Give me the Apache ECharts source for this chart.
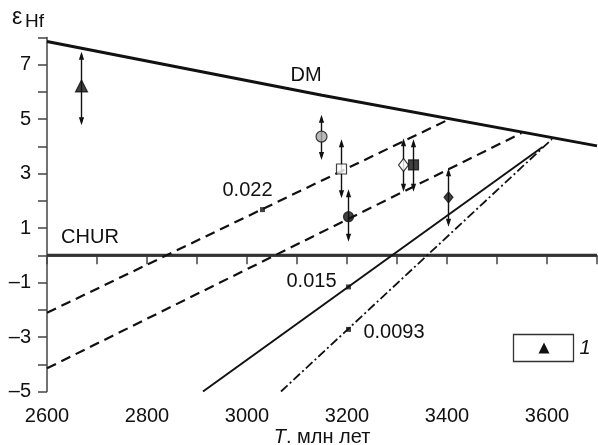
<!DOCTYPE html>
<html>
<head>
<meta charset="utf-8">
<script src="https://cdn.jsdelivr.net/npm/echarts@6/dist/echarts.min.js"></script>
<style>
  html, body { margin: 0; padding: 0; background: #fff; }
  #chart { width: 598px; height: 445px; }
</style>
</head>
<body>
<div id="chart"></div>
<script>
'use strict';

// reference lines
const dmLine = [[2600, 7.85], [3150, 5.88], [3700, 4.02]];
const churLine = [[2600, 0], [3700, 0]];
const line022 = [[2600, -2.11], [3408, 5.03]];
const lineLow = [[2600, -4.15], [3549, 4.49]];
const line015 = [[2912, -5], [3591, 3.98]];
const line0093 = [[3068, -5], [3610, 4.27]];
// small square marks on the evolution lines
const tickMarks = [[3031, 1.68], [3203, -1.16], [3203, -2.72]];

// samples: age, eps Hf, lower and upper limit
const sampleT = [2669, 3149, 3189, 3203, 3313, 3333, 3403];
const sampleEps = [6.22, 4.36, 3.17, 1.42, 3.32, 3.32, 2.13];
const sampleLo = [4.78, 3.50, 2.10, 0.50, 2.34, 2.34, 1.05];
const sampleHi = [7.48, 5.16, 4.26, 2.43, 4.30, 4.26, 3.20];

const xTicks = [2600, 2800, 3000, 3200, 3400, 3600];
const yTicks = [-5, -3, -1, 1, 3, 5, 7];

const FONT = "'Liberation Sans', Arial, sans-serif";
const INK = '#111';
const TXT = '#111';

// one marker style per sample
const markerStyles = [
  { symbol: 'triangle', size: [12, 12], fill: INK },
  { symbol: 'circle', size: 11, fill: '#a8a8a8' },
  { symbol: 'rect', size: 10, fill: '#fff' },
  { symbol: 'circle', size: 10, fill: INK },
  { symbol: 'diamond', size: [10, 13], fill: '#fff' },
  { symbol: 'rect', size: 10, fill: INK },
  { symbol: 'diamond', size: [9, 11], fill: INK }
];

function lineSeries(data, width, type, color) {
  return {
    type: 'line',
    data: data,
    showSymbol: false,
    silent: true,
    lineStyle: { color: color || INK, width: width, type: type || 'solid' },
    z: 2
  };
}

function renderErr(params, api) {
  const x = api.value(0);
  const top = api.coord([x, api.value(2)]);
  const bot = api.coord([x, api.value(1)]);
  const w = 2.6, h = 8;
  return {
    type: 'group',
    children: [
      { type: 'line', shape: { x1: top[0], y1: top[1] + 3, x2: bot[0], y2: bot[1] - 3 },
        style: { stroke: INK, lineWidth: 1.4 } },
      { type: 'polygon', shape: { points: [[top[0], top[1]], [top[0] - w, top[1] + h], [top[0] + w, top[1] + h]] },
        style: { fill: INK } },
      { type: 'polygon', shape: { points: [[bot[0], bot[1]], [bot[0] - w, bot[1] - h], [bot[0] + w, bot[1] - h]] },
        style: { fill: INK } }
    ]
  };
}

const errData = sampleT.map((t, i) => [t, sampleLo[i], sampleHi[i]]);
const pointData = sampleT.map((t, i) => ({
  value: [t, sampleEps[i]],
  symbol: markerStyles[i].symbol,
  symbolSize: markerStyles[i].size,
  itemStyle: { color: markerStyles[i].fill, borderColor: INK, borderWidth: 1.2 }
}));

function txt(x, y, s, opt) {
  return {
    type: 'text', x: x, y: y, silent: true,
    style: Object.assign({ text: s, font: '20px ' + FONT, fill: TXT,
      align: 'center', verticalAlign: 'middle' }, opt || {})
  };
}

const chart = echarts.init(document.getElementById('chart'));
chart.setOption({
  animation: false,
  grid: { left: 47, right: 1, top: 37.5, bottom: 53.5, containLabel: false, outerBoundsMode: 'none' },
  xAxis: {
    type: 'value', min: 2600, max: 3700, interval: 100,
    splitLine: { show: false },
    axisLine: { lineStyle: { color: '#444', width: 1.5 } },
    axisTick: { length: 9, lineStyle: { color: '#444', width: 1.5 } },
    axisLabel: {
      margin: 15, fontSize: 20, fontFamily: FONT, color: TXT,
      formatter: v => xTicks.includes(v) ? String(v) : ''
    },
    name: '{i|T}{n|. млн лет}',
    nameLocation: 'middle', nameGap: 36, nameMoveOverlap: false,
    nameTextStyle: {
      rich: {
        i: { fontStyle: 'italic', fontSize: 20, lineHeight: 20, fontFamily: FONT, color: TXT },
        n: { fontSize: 20, lineHeight: 20, fontFamily: FONT, color: TXT }
      }
    }
  },
  yAxis: {
    type: 'value', min: -5, max: 8, interval: 1,
    splitLine: { show: false },
    axisLine: { show: true, lineStyle: { color: '#444', width: 1.5 } },
    axisTick: { show: true, length: 9, lineStyle: { color: '#444', width: 1.5 } },
    axisLabel: {
      margin: 16, fontSize: 20, fontFamily: FONT, color: TXT,
      formatter: v => yTicks.includes(v) ? String(v).replace('-', '–') : ''
    }
  },
  series: [
    lineSeries(dmLine, 3),
    lineSeries(churLine, 3, 'solid', '#333'),
    lineSeries(line022, 2.2, [10, 6]),
    lineSeries(lineLow, 2.2, [10, 6]),
    lineSeries(line015, 2),
    lineSeries(line0093, 1.8, [9, 3, 2, 3]),
    {
      type: 'scatter', data: tickMarks, symbol: 'rect', symbolSize: 5,
      itemStyle: { color: INK }, silent: true, z: 3
    },
    {
      type: 'custom', data: errData, renderItem: renderErr, silent: true, z: 4
    },
    {
      type: 'scatter', data: pointData, silent: true, z: 5
    }
  ],
  graphic: [
    txt(12, 18, 'ε', { align: 'left', font: '23px ' + FONT }),
    txt(25, 21.5, 'Hf', { align: 'left', font: '19px ' + FONT }),
    txt(306, 75, 'DM'),
    txt(90, 237.5, 'CHUR'),
    txt(247.5, 190.5, '0.022'),
    txt(311.5, 281, '0.015'),
    txt(394, 332, '0.0093'),
    {
      type: 'rect', silent: true,
      shape: { x: 513.5, y: 334.5, width: 60, height: 27 },
      style: { fill: '#fff', stroke: '#333', lineWidth: 1.3 }
    },
    {
      type: 'polygon', silent: true,
      shape: { points: [[544, 342.5], [538.5, 353.5], [549.5, 353.5]] },
      style: { fill: INK }
    },
    txt(585, 348, '1', { font: 'italic 20px ' + FONT })
  ]
});
</script>
</body>
</html>
